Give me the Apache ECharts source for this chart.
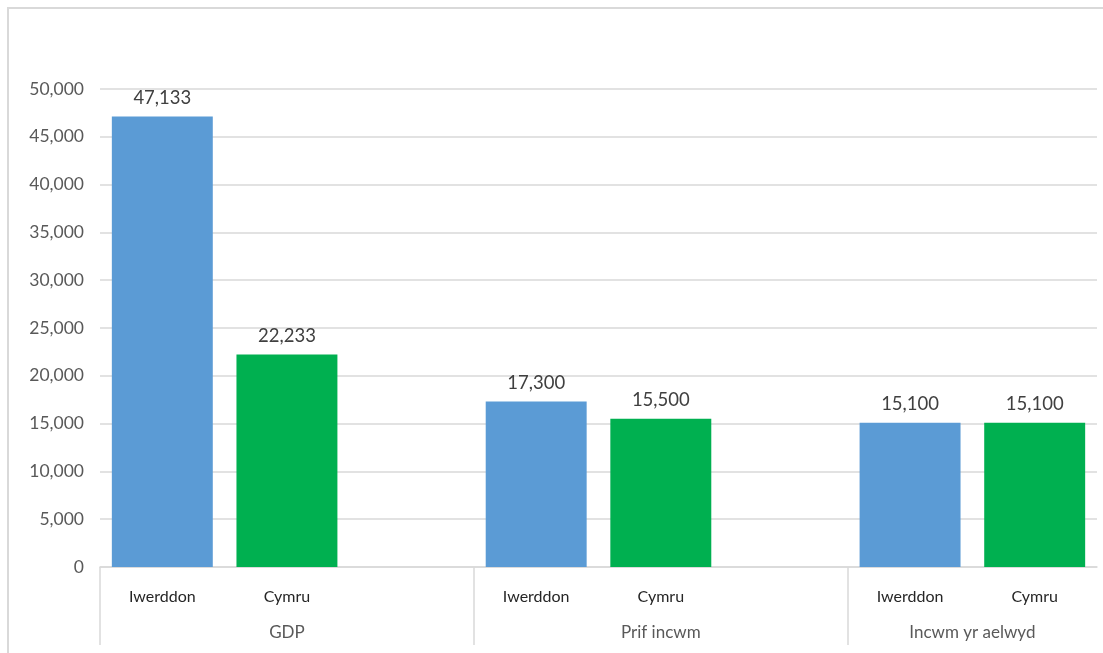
<!DOCTYPE html>
<html>
<head>
<meta charset="utf-8">
<script src="https://cdn.jsdelivr.net/npm/echarts@6/dist/echarts.min.js"></script>
<style>
  html, body { margin: 0; padding: 0; background: #ffffff; overflow: hidden; }
  #chart { width: 1103px; height: 653px; }
  #frame { position: absolute; left: 7px; top: 7px; width: 1120px; height: 680px;
           border: 2px solid #d9d9d9; pointer-events: none; box-sizing: border-box; }
</style>
</head>
<body>
<div id="chart"></div>
<div id="frame"></div>
<script>
// Measures (groups) and countries compared within each group
const groups = ['GDP', 'Prif incwm', 'Incwm yr aelwyd'];
const countries = ['Iwerddon', 'Cymru'];
const iwerddon = [47133, 17300, 15100];
const cymru = [22233, 15500, 15100];
const countryColors = ['#5B9BD5', '#00B050'];
const yTicks = { min: 0, max: 50000, interval: 5000 };

// Flatten into slots: two bars per group plus an empty spacer between groups
const slotLabels = [];
const slotData = [];
const groupBounds = [];
groups.forEach((g, gi) => {
  const start = slotLabels.length;
  const vals = [iwerddon[gi], cymru[gi]];
  countries.forEach((c, ci) => {
    slotLabels.push(c);
    slotData.push({ value: vals[ci], itemStyle: { color: countryColors[ci] } });
  });
  if (gi < groups.length - 1) {
    slotLabels.push('');
    slotData.push(null);
  }
  groupBounds.push([start, slotLabels.length]);
});
const nSlots = slotLabels.length;
const groupCenters = groupBounds.map(b => (b[0] + b[1]) / 2);
const groupStarts = groupBounds.map(b => b[0]);

const fmt = v => String(v).replace(/\B(?=(\d{3})+(?!\d))/g, ',');
const font = 'Lato, "Open Sans", sans-serif';

const chart = echarts.init(document.getElementById('chart'), null, { renderer: 'canvas' });
chart.setOption({
  animation: false,
  textStyle: { fontFamily: font },
  grid: { left: 100, right: 6, top: 89, bottom: 86, containLabel: false },
  xAxis: [
    {
      type: 'category',
      data: slotLabels,
      axisLine: { lineStyle: { color: '#d9d9d9', width: 1.5 } },
      axisTick: { show: false },
      axisLabel: { color: '#262626', fontSize: 16, margin: 22, interval: 0, fontFamily: font }
    },
    {
      type: 'value',
      position: 'bottom',
      min: 0,
      max: nSlots,
      axisLine: { show: false },
      splitLine: { show: false },
      axisTick: {
        show: true,
        customValues: groupStarts,
        length: 78,
        lineStyle: { color: '#d9d9d9', width: 1.5 }
      },
      axisLabel: {
        customValues: groupCenters,
        margin: 57,
        color: '#595959',
        fontSize: 17,
        fontFamily: font,
        formatter: v => {
          const i = groupCenters.indexOf(v);
          return i >= 0 ? groups[i] : '';
        }
      }
    }
  ],
  yAxis: {
    type: 'value',
    min: yTicks.min,
    max: yTicks.max,
    interval: yTicks.interval,
    axisLine: { show: false },
    axisTick: { show: false },
    splitLine: { lineStyle: { color: '#d9d9d9', width: 1.5 } },
    axisLabel: { color: '#595959', fontSize: 17.5, margin: 16, fontFamily: font, formatter: fmt }
  },
  series: [
    {
      type: 'bar',
      xAxisIndex: 0,
      data: slotData,
      barCategoryGap: '19%',
      label: {
        show: true,
        position: 'top',
        distance: 9,
        color: '#404040',
        fontSize: 18.5,
        fontFamily: font,
        formatter: p => fmt(p.value)
      }
    }
  ]
});
</script>
</body>
</html>
